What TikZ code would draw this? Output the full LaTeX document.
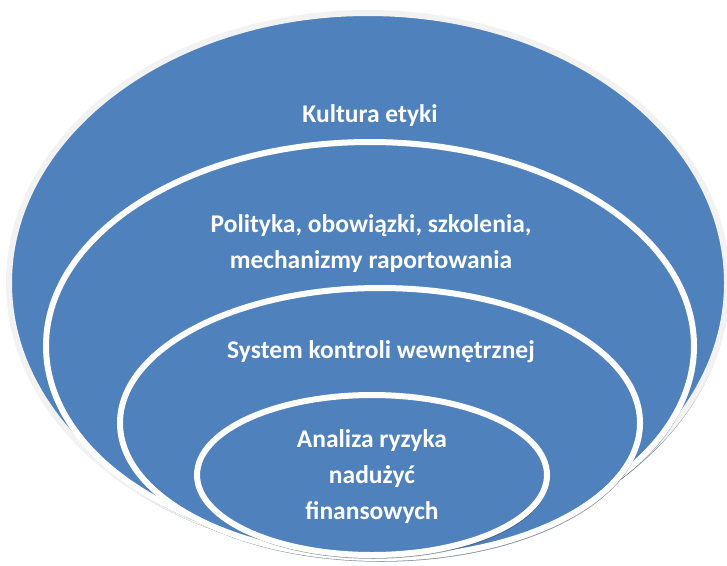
\documentclass[tikz,border=0pt]{standalone}
\usepackage{fontspec}
\setmainfont{Carlito}
\definecolor{ringblue}{RGB}{79,129,189}
\definecolor{rimgrey}{RGB}{242,242,242}
\definecolor{shadowgrey}{RGB}{60,75,95}
\tikzstyle{ring}=[fill=ringblue, draw=white, line width=6pt]
\tikzstyle{ringshadow}=[draw=shadowgrey, line width=1.5pt, opacity=0.6]
\tikzstyle{ringtext}=[text=white, font=\bfseries\fontsize{25.5}{36}\selectfont, align=center]

\begin{document}
\begin{tikzpicture}[x=1pt, y=-1pt]
\useasboundingbox (0,0) rectangle (727,565);
% Rings, outside in
    \draw[ringshadow] (369,286) ellipse (359 and 270);
    \draw[ring, draw=rimgrey] (368,283) ellipse (359 and 270);
    \draw[ringshadow] (371,349) ellipse (324 and 204);
    \draw[ring] (370,346) ellipse (324 and 204);
    \draw[ringshadow] (381,426) ellipse (260 and 135);
    \draw[ring] (380,423) ellipse (260 and 135);
    \draw[ringshadow] (373,478) ellipse (175 and 80);
    \draw[ring] (372,475) ellipse (175 and 80);
% Texts
    \node[ringtext] (kultura) at (370,116) {Kultura etyki};
    \node[ringtext] (polityka) at (371,244) {Polityka, obowiązki, szkolenia,\\mechanizmy raportowania};
    \node[ringtext] (system) at (381,352) {System kontroli wewnętrznej};
    \node[ringtext] (analiza) at (372,477) {Analiza ryzyka\\nadużyć\\finansowych};
\end{tikzpicture}
\end{document}
